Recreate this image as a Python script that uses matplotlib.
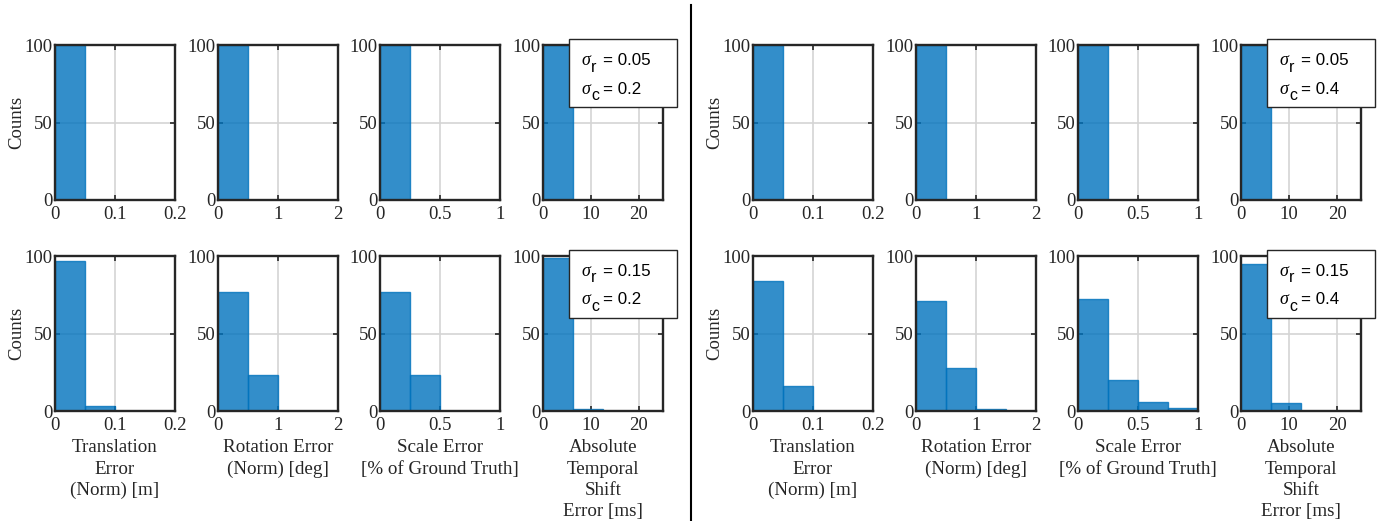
import numpy as np
import matplotlib
matplotlib.use("Agg")
from matplotlib import pyplot as plt
from matplotlib.patches import Rectangle
from matplotlib.lines import Line2D

plt.rcParams["font.family"] = ["Liberation Serif", "DejaVu Serif"]

# bin edges for each of the four error types
trans_edges = [0, 0.05, 0.1, 0.15, 0.2]
rot_edges = [0, 0.5, 1.0, 1.5, 2.0]
scale_edges = [0, 0.25, 0.5, 0.75, 1.0]
time_edges = [0, 6.25, 12.5, 18.75, 25]

trans_ticks = [0, 0.1, 0.2]
rot_ticks = [0, 1, 2]
scale_ticks = [0, 0.5, 1]
time_ticks = [0, 10, 20]

xlabels = [
    "Translation\nError\n(Norm) [m]",
    "Rotation Error\n(Norm) [deg]",
    "Scale Error\n[% of Ground Truth]",
    "Absolute\nTemporal\nShift\nError [ms]",
]

# counts per bin, left panel (sigma_c = 0.2)
left_top = {
    "trans": [100, 0, 0, 0],
    "rot": [100, 0, 0, 0],
    "scale": [100, 0, 0, 0],
    "time": [100, 0, 0, 0],
}
left_bottom = {
    "trans": [97, 3, 0, 0],
    "rot": [77, 23, 0, 0],
    "scale": [77, 23, 0, 0],
    "time": [99, 1, 0, 0],
}
# counts per bin, right panel (sigma_c = 0.4)
right_top = {
    "trans": [100, 0, 0, 0],
    "rot": [100, 0, 0, 0],
    "scale": [100, 0, 0, 0],
    "time": [100, 0, 0, 0],
}
right_bottom = {
    "trans": [84, 16, 0, 0],
    "rot": [71, 28, 1, 0],
    "scale": [72, 20, 6, 2],
    "time": [95, 5, 0, 0],
}

sigma_r = ["0.05", "0.15"]
sigma_c = ["0.2", "0.4"]

keys = ["trans", "rot", "scale", "time"]
edges = {"trans": trans_edges, "rot": rot_edges, "scale": scale_edges, "time": time_edges}
ticks = {"trans": trans_ticks, "rot": rot_ticks, "scale": scale_ticks, "time": time_ticks}

W, H = 1396, 521
fig = plt.figure(figsize=(W / 100, H / 100), dpi=100)

blue = (0, 0.447, 0.741)
dark = "#262626"

col_left = [55, 218, 380, 543]
ax_w = 120
ax_h = 155
row_top = [45, 256]
group_off = [0, 698]

panels = [[left_top, left_bottom], [right_top, right_bottom]]


def px(x, y):
    # pixel position (from top-left) -> figure fraction
    return x / W, 1 - y / H


def sigma_line(x, y, sub, value):
    # greek sigma, sans subscript, then "= value" (MATLAB tex style)
    fig.text(*px(x, y), "σ", family=["Liberation Serif"], style="italic",
             fontsize=13, va="baseline", ha="left", zorder=11)
    fig.text(*px(x + 9.5, y + 6.5), sub, family=["Liberation Sans"],
             fontsize=11.5, va="baseline", ha="left", zorder=11)
    fig.text(*px(x + 21.5, y), "= " + value, family=["Liberation Sans"],
             fontsize=12.2, va="baseline", ha="left", zorder=11)


for g in range(2):
    for r in range(2):
        data = panels[g][r]
        for c, k in enumerate(keys):
            x0 = col_left[c] + group_off[g]
            y0 = row_top[r]
            ax = fig.add_axes([x0 / W, 1 - (y0 + ax_h) / H, ax_w / W, ax_h / H])
            e = np.array(edges[k])
            ax.bar(e[:-1], data[k], width=np.diff(e), align="edge",
                   color=blue, alpha=0.8, edgecolor=blue, linewidth=1.0, zorder=3)
            ax.set_xlim(e[0], e[-1])
            ax.set_ylim(0, 100)
            ax.set_xticks(ticks[k])
            ax.set_xticklabels([f"{t:g}" for t in ticks[k]])
            ax.set_yticks([0, 50, 100])
            ax.grid(True, color="#d4d4d4", linewidth=1.2, zorder=1)
            ax.set_axisbelow(True)
            ax.tick_params(direction="in", length=3.5, width=1.2, top=True, right=True,
                           labelsize=13.5, pad=2, colors=dark)
            ax.tick_params(axis="x", pad=4)
            for sp in ax.spines.values():
                sp.set_linewidth(1.7)
                sp.set_color(dark)
                sp.set_zorder(5)
            if c == 0:
                ax.set_ylabel("Counts", fontsize=13.5, color=dark)
                ax.yaxis.set_label_coords(-30 / ax_w, 0.5)
            if r == 1:
                ax.set_xlabel(xlabels[c], fontsize=13.7, color=dark,
                              linespacing=1.34, labelpad=4)

        # sigma annotation box
        bx0 = 569 + group_off[g]
        by0 = 39 + row_top[r] - 45
        bw, bh = 108, 68
        fig.patches.append(Rectangle(px(bx0, by0 + bh), bw / W, bh / H,
                                     transform=fig.transFigure, facecolor="white",
                                     edgecolor=dark, linewidth=1.0, zorder=10))
        sigma_line(bx0 + 12.5, by0 + 26, "r", sigma_r[r])
        sigma_line(bx0 + 12.5, by0 + 54.5, "c", sigma_c[g])

# divider between the two panels
fig.lines.append(Line2D([690.5 / W, 690.5 / W], [0, 1 - 5 / H], transform=fig.transFigure,
                        color="black", linewidth=1.5))

fig.savefig("out.png", dpi=100)
